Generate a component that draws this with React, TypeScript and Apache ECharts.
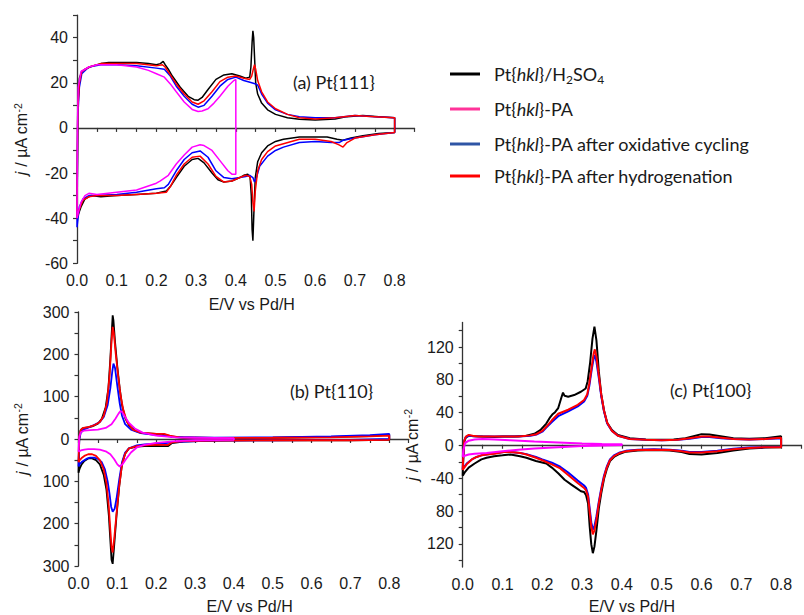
import { useEffect, useRef } from 'react';
import * as echarts from 'echarts';

type Pt = [number, number];

// ---------- legend / series names ----------
const NAMES = [
  'Pt{hkl}/H2SO4',
  'Pt{hkl}-PA',
  'Pt{hkl}-PA after oxidative cycling',
  'Pt{hkl}-PA after hydrogenation',
];
const LEGEND_RICH = [
  'Pt{{i|hkl}}/H{sub|2}SO{sub|4}',
  'Pt{{i|hkl}}-PA',
  'Pt{{i|hkl}}-PA after oxidative cycling',
  'Pt{{i|hkl}}-PA after hydrogenation',
];
const PANEL_LABELS = ['(a) Pt{111}', '(b) Pt{110}', '(c) Pt{100}'];

// ---------- tick labels ----------
const xTicks = [0, 0.1, 0.2, 0.3, 0.4, 0.5, 0.6, 0.7, 0.8];
const xTickLabels = ['0.0', '0.1', '0.2', '0.3', '0.4', '0.5', '0.6', '0.7', '0.8'];
const yTicksA = [-60, -40, -20, 0, 20, 40];
const yTickLabelsA = ['-60', '-40', '-20', '0', '20', '40'];
const yTicksB = [-300, -200, -100, 0, 100, 200, 300];
const yTickLabelsB = ['300', '200', '100', '0', '100', '200', '300'];
const yTicksC = [-120, -80, -40, 0, 40, 80, 120];
const yTickLabelsC = ['120', '80', '-40', '0', '40', '80', '120'];

// ---------- (a) Pt{111} ----------
const a_H2SO4: Pt[] = [
  [0, -40], [0.002, 10], [0.006, 22], [0.012, 25], [0.02, 26], [0.04, 27.5], [0.06, 28.5], [0.08, 29], [0.1, 29],
  [0.12, 29], [0.15, 29], [0.18, 28.5], [0.2, 28], [0.21, 28.5], [0.217, 29.5], [0.222, 28], [0.23, 26], [0.24, 23],
  [0.26, 18], [0.28, 14], [0.295, 12.5], [0.305, 12.3], [0.315, 13.5], [0.33, 17], [0.35, 21.5], [0.37, 23.5],
  [0.39, 24], [0.41, 23], [0.425, 22], [0.435, 22.5], [0.438, 27], [0.441, 38], [0.443, 43], [0.445, 40],
  [0.447, 32], [0.45, 20], [0.455, 15], [0.465, 11], [0.48, 8], [0.5, 6], [0.53, 4.5], [0.56, 3.8], [0.6, 3.5],
  [0.65, 4], [0.68, 5], [0.72, 5.5], [0.76, 5], [0.8, 4.5],
  [0.8, -2], [0.76, -2.5], [0.72, -3.5], [0.69, -4.5], [0.67, -5.5], [0.655, -5], [0.63, -4], [0.6, -4], [0.56, -4],
  [0.52, -5], [0.5, -6], [0.48, -8], [0.465, -11], [0.455, -15], [0.449, -22], [0.446, -35], [0.443, -50],
  [0.441, -45], [0.439, -30], [0.436, -22], [0.43, -20.5], [0.42, -21], [0.41, -22], [0.39, -23.5], [0.37, -24],
  [0.355, -23], [0.34, -20], [0.32, -15.5], [0.305, -13.5], [0.29, -14], [0.27, -17], [0.25, -22], [0.235, -26],
  [0.225, -28], [0.2, -29], [0.15, -29.5], [0.1, -30], [0.06, -30.5], [0.035, -30], [0.02, -31.5], [0.01, -35],
  [0.004, -38], [0, -40],
];
const a_PA: Pt[] = [
  [0, -40], [0.001, 0], [0.003, 18], [0.01, 25], [0.03, 27], [0.05, 28], [0.1, 28], [0.15, 27], [0.18, 25.5],
  [0.2, 24], [0.22, 22.5], [0.235, 19.5], [0.25, 16], [0.27, 11.5], [0.29, 8.2], [0.305, 7.3], [0.315, 7.5],
  [0.33, 8.5], [0.345, 11], [0.36, 14], [0.38, 18.5], [0.395, 21], [0.4, 21.5],
  [0.4, -20.5], [0.39, -20.5], [0.38, -19], [0.36, -14.5], [0.34, -10], [0.32, -7.8], [0.31, -7.5], [0.29, -8.5],
  [0.27, -12], [0.25, -16], [0.23, -21], [0.21, -23.5], [0.2, -24.5], [0.15, -27.5], [0.1, -28.5], [0.05, -29.5],
  [0.03, -29], [0.02, -30], [0.01, -33], [0.004, -37], [0, -40],
];
const a_PAox: Pt[] = [
  [0, -44], [0.002, 5], [0.006, 18], [0.012, 24], [0.03, 27], [0.06, 28], [0.1, 28], [0.15, 27.5], [0.2, 26.5],
  [0.22, 26], [0.235, 23], [0.25, 18.5], [0.27, 14], [0.29, 10.5], [0.305, 9.2], [0.32, 10], [0.34, 14],
  [0.36, 18.5], [0.38, 21.5], [0.4, 22.5], [0.42, 21], [0.44, 20], [0.45, 19.5], [0.455, 19], [0.465, 15],
  [0.48, 11], [0.5, 8], [0.53, 6], [0.56, 5], [0.6, 4.5], [0.65, 4.5], [0.7, 5.5], [0.75, 5], [0.8, 4.5],
  [0.8, -2], [0.75, -3], [0.7, -4.5], [0.67, -5.5], [0.66, -6.5], [0.64, -6.5], [0.6, -6], [0.56, -6.5],
  [0.52, -8.5], [0.5, -10], [0.48, -12.5], [0.46, -17], [0.452, -22], [0.447, -24], [0.443, -22], [0.435, -21],
  [0.425, -21.5], [0.41, -22], [0.39, -22.5], [0.37, -22], [0.35, -19], [0.33, -13], [0.31, -10.2], [0.29, -11],
  [0.27, -14], [0.25, -19], [0.23, -25], [0.22, -26.5], [0.2, -27], [0.15, -28.5], [0.1, -29.5], [0.05, -30],
  [0.03, -30], [0.015, -31.5], [0.006, -35], [0, -44],
];
const a_PAhyd: Pt[] = [
  [0, -40], [0.002, 8], [0.006, 20], [0.012, 25], [0.03, 27], [0.06, 28.5], [0.1, 28.5], [0.15, 28.5], [0.2, 27.5],
  [0.215, 28], [0.222, 27], [0.235, 23.5], [0.25, 19.5], [0.27, 15], [0.29, 11.5], [0.305, 10.5], [0.32, 12],
  [0.34, 16], [0.36, 20.5], [0.38, 22.5], [0.4, 23], [0.42, 22], [0.435, 21.5], [0.44, 23], [0.444, 26],
  [0.447, 28], [0.45, 26], [0.455, 21], [0.465, 16], [0.48, 11.5], [0.5, 8.5], [0.53, 6], [0.56, 4.5], [0.6, 4],
  [0.65, 4.5], [0.7, 5.5], [0.75, 5], [0.8, 4.5],
  [0.8, -2], [0.75, -3], [0.7, -4.5], [0.68, -6.5], [0.67, -8.5], [0.66, -7.5], [0.64, -6], [0.6, -5], [0.56, -5],
  [0.52, -7], [0.5, -8], [0.48, -10.5], [0.465, -14], [0.455, -19], [0.449, -28], [0.446, -37], [0.443, -33],
  [0.44, -25], [0.435, -21.5], [0.425, -21], [0.41, -22], [0.39, -23.5], [0.37, -24], [0.35, -21.5], [0.33, -16],
  [0.31, -12.5], [0.29, -13], [0.27, -16], [0.25, -21], [0.235, -26], [0.225, -28.5], [0.2, -29], [0.15, -29.5],
  [0.1, -30], [0.05, -30], [0.03, -30.5], [0.015, -32], [0.006, -36], [0, -40],
];

// ---------- (b) Pt{110} ----------
const b_H2SO4: Pt[] = [
  [0, -80], [0.002, 0], [0.005, 20], [0.01, 25], [0.02, 27], [0.035, 30], [0.05, 36], [0.06, 48], [0.07, 75],
  [0.077, 120], [0.082, 190], [0.086, 260], [0.088, 292], [0.09, 280], [0.094, 230], [0.1, 170], [0.106, 120],
  [0.112, 80], [0.12, 50], [0.13, 32], [0.145, 20], [0.165, 14], [0.2, 12], [0.215, 12], [0.225, 10], [0.24, 5],
  [0.27, 3], [0.35, 2], [0.5, 3], [0.65, 5], [0.75, 7], [0.8, 10],
  [0.8, -2], [0.7, -3], [0.5, -3], [0.35, -4], [0.27, -6], [0.24, -10], [0.23, -17], [0.215, -17], [0.2, -16],
  [0.17, -17], [0.15, -18], [0.13, -22], [0.12, -35], [0.112, -60], [0.105, -110], [0.098, -180], [0.092, -250],
  [0.088, -295], [0.085, -285], [0.082, -240], [0.078, -180], [0.072, -120], [0.065, -85], [0.055, -60],
  [0.045, -50], [0.035, -46], [0.025, -46], [0.015, -52], [0.008, -60], [0.003, -70], [0, -80],
];
const b_PA: Pt[] = [
  [0, -30], [0.002, 5], [0.006, 16], [0.015, 20], [0.03, 21], [0.05, 22], [0.07, 26], [0.085, 35], [0.095, 48],
  [0.103, 60], [0.108, 66], [0.113, 63], [0.12, 52], [0.13, 38], [0.145, 25], [0.165, 15], [0.2, 8], [0.25, 4],
  [0.3, 3], [0.4, 2],
  [0.4, -2], [0.3, -3], [0.25, -5], [0.2, -9], [0.17, -14], [0.15, -20], [0.135, -32], [0.122, -48], [0.113, -60],
  [0.106, -65], [0.1, -60], [0.092, -48], [0.082, -36], [0.07, -29], [0.055, -25], [0.04, -24], [0.025, -24],
  [0.015, -25], [0.006, -27], [0, -30],
];
const b_PAox: Pt[] = [
  [0, -65], [0.002, 0], [0.006, 15], [0.012, 22], [0.025, 27], [0.04, 33], [0.055, 40], [0.065, 52], [0.075, 80],
  [0.082, 120], [0.087, 160], [0.09, 178], [0.094, 168], [0.1, 125], [0.106, 85], [0.112, 55], [0.12, 35],
  [0.135, 22], [0.16, 14], [0.2, 9], [0.25, 5], [0.35, 3], [0.5, 4], [0.65, 6], [0.75, 9], [0.8, 12],
  [0.8, 0], [0.7, -2], [0.5, -3], [0.35, -4], [0.27, -6], [0.24, -8], [0.22, -10], [0.2, -11], [0.17, -13],
  [0.15, -15], [0.13, -22], [0.12, -32], [0.112, -55], [0.105, -95], [0.098, -140], [0.093, -165], [0.088, -172],
  [0.084, -160], [0.08, -130], [0.075, -100], [0.068, -72], [0.06, -55], [0.05, -47], [0.04, -44], [0.03, -44],
  [0.02, -47], [0.01, -53], [0.004, -58], [0, -65],
];
const b_PAhyd: Pt[] = [
  [0, -55], [0.002, 5], [0.006, 22], [0.012, 26], [0.025, 28], [0.04, 32], [0.055, 40], [0.065, 55], [0.073, 85],
  [0.08, 150], [0.085, 230], [0.088, 265], [0.091, 250], [0.096, 200], [0.102, 150], [0.108, 105], [0.115, 70],
  [0.125, 40], [0.14, 22], [0.16, 15], [0.2, 12], [0.22, 12], [0.235, 8], [0.26, 4], [0.35, 2.5], [0.5, 3],
  [0.65, 4], [0.75, 6], [0.8, 8],
  [0.8, -2], [0.7, -3], [0.5, -3], [0.35, -3.5], [0.27, -5], [0.24, -8], [0.23, -14], [0.215, -14], [0.2, -14],
  [0.17, -15], [0.15, -17], [0.13, -22], [0.12, -35], [0.112, -60], [0.105, -110], [0.098, -175], [0.092, -235],
  [0.088, -268], [0.085, -255], [0.082, -215], [0.078, -160], [0.072, -105], [0.065, -72], [0.055, -50],
  [0.045, -40], [0.035, -36], [0.025, -36], [0.015, -40], [0.008, -45], [0.003, -50], [0, -55],
];

// ---------- (c) Pt{100} ----------
const c_H2SO4: Pt[] = [
  [0, -38], [0.002, -10], [0.004, 4], [0.008, 9], [0.015, 11], [0.03, 10.5], [0.05, 10], [0.08, 9.5], [0.1, 10],
  [0.13, 10], [0.16, 11], [0.18, 13.5], [0.195, 18], [0.21, 26], [0.22, 34], [0.225, 37], [0.232, 40], [0.24, 45],
  [0.248, 58], [0.252, 64], [0.256, 60], [0.265, 59], [0.28, 61], [0.297, 65], [0.309, 69], [0.314, 78],
  [0.32, 100], [0.326, 130], [0.331, 145], [0.336, 128], [0.342, 90], [0.348, 62], [0.355, 42], [0.363, 27],
  [0.375, 18], [0.39, 12], [0.42, 8], [0.46, 6.5], [0.5, 6], [0.53, 6.5], [0.56, 8], [0.58, 10.5], [0.6, 13],
  [0.62, 12.5], [0.64, 11], [0.68, 8], [0.72, 7.5], [0.76, 8], [0.8, 10.5],
  [0.8, -3], [0.76, -3.5], [0.72, -4.5], [0.68, -7], [0.64, -10], [0.6, -12], [0.57, -11.5], [0.55, -9],
  [0.52, -7], [0.48, -6.5], [0.44, -7], [0.41, -8.5], [0.395, -11], [0.38, -15], [0.37, -20], [0.362, -30],
  [0.355, -42], [0.348, -60], [0.342, -78], [0.336, -105], [0.331, -125], [0.327, -133], [0.323, -122],
  [0.319, -100], [0.315, -72], [0.31, -62], [0.305, -58], [0.297, -57], [0.285, -53], [0.273, -49], [0.256, -43],
  [0.24, -35], [0.224, -28], [0.21, -23], [0.184, -20], [0.16, -16], [0.144, -14], [0.12, -12], [0.1, -13],
  [0.079, -14], [0.06, -16], [0.047, -18], [0.03, -23], [0.015, -28], [0.005, -34], [0, -38],
];
const c_PA: Pt[] = [
  [0, -15], [0.002, -6], [0.006, 2], [0.015, 5], [0.03, 6.5], [0.05, 7], [0.08, 6.5], [0.12, 5.5], [0.18, 4],
  [0.24, 2.8], [0.3, 1.6], [0.35, 1], [0.4, 0.6],
  [0.4, -0.3], [0.35, -0.8], [0.3, -1.6], [0.24, -3], [0.18, -4.5], [0.14, -6], [0.1, -8], [0.06, -10],
  [0.03, -11], [0.015, -12], [0.005, -13.5], [0, -15],
];
const c_PAox: Pt[] = [
  [0, -30], [0.002, -8], [0.004, 5], [0.008, 9.5], [0.015, 11], [0.03, 10.5], [0.06, 10], [0.1, 10], [0.14, 10],
  [0.17, 11], [0.185, 12.5], [0.2, 16], [0.21, 21], [0.224, 28], [0.24, 35], [0.265, 41], [0.289, 47], [0.305, 53],
  [0.313, 60], [0.318, 72], [0.324, 92], [0.329, 106], [0.332, 110], [0.336, 102], [0.342, 82], [0.348, 60],
  [0.355, 41], [0.363, 26], [0.375, 17], [0.39, 11], [0.42, 7], [0.46, 6], [0.5, 5.5], [0.54, 6], [0.57, 7.5],
  [0.6, 9.5], [0.62, 9.5], [0.65, 8], [0.68, 7], [0.72, 6.5], [0.76, 7], [0.8, 8],
  [0.8, -2.5], [0.72, -3.5], [0.68, -5], [0.64, -7.5], [0.6, -9], [0.57, -9], [0.55, -7.5], [0.52, -6],
  [0.48, -5.5], [0.44, -6], [0.41, -7.5], [0.395, -9.5], [0.38, -13], [0.37, -18], [0.362, -27], [0.355, -38],
  [0.348, -54], [0.342, -70], [0.336, -88], [0.331, -100], [0.327, -104], [0.323, -95], [0.319, -78],
  [0.315, -61], [0.31, -53], [0.305, -50], [0.289, -44], [0.265, -34], [0.245, -27], [0.224, -22], [0.2, -18],
  [0.184, -15], [0.16, -11.5], [0.144, -10], [0.12, -9], [0.103, -9], [0.08, -10.5], [0.06, -12], [0.047, -13],
  [0.035, -15], [0.023, -18], [0.01, -23], [0.004, -27], [0, -30],
];
const c_PAhyd: Pt[] = [
  [0, -31], [0.002, -8], [0.004, 5], [0.008, 10], [0.015, 12], [0.025, 11], [0.04, 10], [0.07, 10], [0.1, 10],
  [0.14, 10], [0.17, 11.5], [0.185, 13], [0.2, 17], [0.21, 22], [0.224, 30], [0.24, 38], [0.265, 43], [0.289, 49],
  [0.305, 55], [0.313, 62], [0.318, 75], [0.324, 95], [0.329, 112], [0.332, 117], [0.336, 108], [0.342, 85],
  [0.348, 62], [0.355, 42], [0.363, 27], [0.375, 17], [0.39, 11], [0.42, 7], [0.46, 6], [0.5, 5.5], [0.54, 6],
  [0.57, 8], [0.6, 10], [0.62, 10], [0.65, 8.5], [0.68, 7], [0.72, 6.5], [0.76, 7], [0.8, 8.5],
  [0.8, -3], [0.76, -3], [0.72, -4], [0.68, -5.5], [0.64, -8], [0.6, -9.5], [0.57, -9.5], [0.55, -8], [0.52, -6.5],
  [0.48, -6], [0.44, -6.5], [0.41, -8], [0.395, -10], [0.38, -14], [0.37, -19], [0.362, -28], [0.355, -40],
  [0.348, -56], [0.342, -72], [0.336, -92], [0.331, -105], [0.327, -110], [0.323, -100], [0.319, -82],
  [0.315, -64], [0.31, -56], [0.305, -53], [0.289, -47], [0.265, -37], [0.245, -29], [0.224, -24], [0.2, -19],
  [0.184, -16], [0.16, -12], [0.144, -10], [0.12, -9], [0.103, -9], [0.08, -11], [0.06, -12], [0.047, -13],
  [0.035, -15], [0.023, -18], [0.01, -24], [0.004, -28], [0, -31],
];

const PANEL_DATA: Pt[][][] = [
  [a_H2SO4, a_PA, a_PAox, a_PAhyd],
  [b_H2SO4, b_PA, b_PAox, b_PAhyd],
  [c_H2SO4, c_PA, c_PAox, c_PAhyd],
];

// ---------- styles ----------
const SERIES_COLORS = ['#000000', '#ff00ff', '#0000ff', '#ff0000'];
const LEGEND_COLORS = ['#000000', '#ff3399', '#2e55a5', '#ff0000'];
const DRAW_ORDER = [0, 2, 3, 1];
const LINE_WIDTHS = [1.5, 1.8, 2.0];
const TICK_FONT = 'Liberation Sans';
const TICK_SIZE = 16;
const TEXT_FONT = 'Lato';
const TEXT_COLOR = '#1a1a1a';
const AXIS_COLOR = '#333333';

function labeler(ticks: number[], labels: string[]) {
  return (v: number) => {
    const i = ticks.findIndex((t) => Math.abs(t - v) < 1e-6);
    return i >= 0 ? labels[i] : '';
  };
}

const yTitle = {
  fontFamily: TICK_FONT,
  fontSize: 16,
  color: TEXT_COLOR,
  lineHeight: 19,
  rich: {
    i: { fontStyle: 'italic', fontFamily: TICK_FONT, fontSize: 16, color: TEXT_COLOR, lineHeight: 19 },
    sup: { fontFamily: TICK_FONT, fontSize: 10.5, color: TEXT_COLOR, lineHeight: 10, verticalAlign: 'top' },
  },
};

function xAxisDef(gridIndex: number, gap: number, shift: number) {
  return {
    type: 'value',
    gridIndex,
    min: 0,
    max: 0.85,
    interval: 0.05,
    splitLine: { show: false },
    axisLine: { lineStyle: { color: AXIS_COLOR, width: 1.3 } },
    axisTick: { length: 4, lineStyle: { color: AXIS_COLOR, width: 1.2 } },
    axisLabel: {
      fontFamily: TICK_FONT,
      fontSize: TICK_SIZE,
      color: TEXT_COLOR,
      margin: 9,
      formatter: labeler(xTicks, xTickLabels),
    },
    name: 'E/V vs Pd/H',
    nameLocation: 'middle',
    nameGap: gap,
    nameTextStyle: { fontFamily: TICK_FONT, fontSize: 16, color: TEXT_COLOR, padding: [0, 0, 0, shift] },
  };
}

function yAxisBase(gridIndex: number) {
  return {
    type: 'value',
    gridIndex,
    splitLine: { show: false },
    axisLine: { show: true, lineStyle: { color: AXIS_COLOR, width: 1.3 } },
    axisTick: { show: true, length: 4, lineStyle: { color: AXIS_COLOR, width: 1.2 } },
    axisLabel: { fontFamily: TICK_FONT, fontSize: TICK_SIZE, color: TEXT_COLOR, margin: 9 },
  };
}

const yName = '{i|j} / µA cm{sup|-2}';

export default function App() {
  const ref = useRef<HTMLDivElement>(null);
  useEffect(() => {
    if (!ref.current) return;
    const chart = echarts.init(ref.current, null, { renderer: 'svg' });

    const series: any[] = [];
    PANEL_DATA.forEach((curves, p) => {
      DRAW_ORDER.forEach((k) => {
        series.push({
          type: 'line',
          name: NAMES[k],
          xAxisIndex: p,
          yAxisIndex: p,
          data: curves[k],
          showSymbol: false,
          symbol: 'none',
          silent: true,
          lineStyle: { color: SERIES_COLORS[k], width: LINE_WIDTHS[p] },
          itemStyle: { color: SERIES_COLORS[k] },
        });
      });
    });

    const legendY = [74, 109, 144, 176];
    const legend = NAMES.map((n, k) => ({
      data: [{ name: n, itemStyle: { color: LEGEND_COLORS[k] } }],
      left: 450,
      top: legendY[k] - 11,
      padding: 0,
      orient: 'vertical',
      icon: 'rect',
      itemWidth: 30,
      itemHeight: 3,
      selectedMode: false,
      formatter: () => LEGEND_RICH[k],
      textStyle: {
        fontFamily: TEXT_FONT,
        fontSize: 18,
        color: TEXT_COLOR,
        lineHeight: 22,
        padding: [0, 0, 0, 9],
        rich: {
          i: { fontFamily: TEXT_FONT, fontSize: 18, fontStyle: 'italic', color: TEXT_COLOR, lineHeight: 22 },
          sub: { fontFamily: TEXT_FONT, fontSize: 12, color: TEXT_COLOR, lineHeight: 12, verticalAlign: 'bottom' },
        },
      },
    }));

    const option: any = {
      animation: false,
      backgroundColor: '#ffffff',
      grid: [
        { left: 77, top: 15.1, width: 337.5, height: 248.2 },
        { left: 78.5, top: 312, width: 330.2, height: 255.7 },
        { left: 462.7, top: 322.5, width: 351.3, height: 246 },
        { left: 462.7, top: 330.7, width: 351.3, height: 229.6 },
      ],
      xAxis: [
        xAxisDef(0, 33, 12),
        xAxisDef(1, 32, 12),
        xAxisDef(2, 31, 0),
        { type: 'value', gridIndex: 3, min: 0, max: 1, show: false },
      ],
      yAxis: [
        {
          ...yAxisBase(0),
          min: -60,
          max: 50,
          interval: 10,
          axisLabel: { ...yAxisBase(0).axisLabel, formatter: labeler(yTicksA, yTickLabelsA) },
          name: yName,
          nameLocation: 'middle',
          nameRotate: 90,
          nameGap: 46,
          nameTextStyle: yTitle,
        },
        {
          ...yAxisBase(1),
          min: -300,
          max: 300,
          interval: 50,
          axisLabel: { ...yAxisBase(1).axisLabel, formatter: labeler(yTicksB, yTickLabelsB) },
          name: yName,
          nameLocation: 'middle',
          nameRotate: 90,
          nameGap: 47,
          nameTextStyle: yTitle,
        },
        {
          ...yAxisBase(2),
          min: -150,
          max: 150,
          axisTick: { show: false },
          axisLabel: { show: false },
          name: yName,
          nameLocation: 'middle',
          nameRotate: 90,
          nameGap: 41,
          nameTextStyle: yTitle,
        },
        {
          ...yAxisBase(3),
          min: -140,
          max: 140,
          interval: 20,
          axisLine: { show: false },
          axisLabel: { ...yAxisBase(3).axisLabel, formatter: labeler(yTicksC, yTickLabelsC) },
        },
      ],
      legend,
      series,
      graphic: [
        { type: 'text', x: 293, y: 82, style: { text: PANEL_LABELS[0], font: `18px ${TEXT_FONT}`, fill: TEXT_COLOR, verticalAlign: 'middle' } },
        { type: 'text', x: 290, y: 391, style: { text: PANEL_LABELS[1], font: `18px ${TEXT_FONT}`, fill: TEXT_COLOR, verticalAlign: 'middle' } },
        { type: 'text', x: 670, y: 390, style: { text: PANEL_LABELS[2], font: `18px ${TEXT_FONT}`, fill: TEXT_COLOR, verticalAlign: 'middle' } },
      ],
    };
    chart.setOption(option);
    return () => chart.dispose();
  }, []);

  return <div ref={ref} style={{ position: 'fixed', left: 0, top: 0, width: 804, height: 615 }} />;
}
